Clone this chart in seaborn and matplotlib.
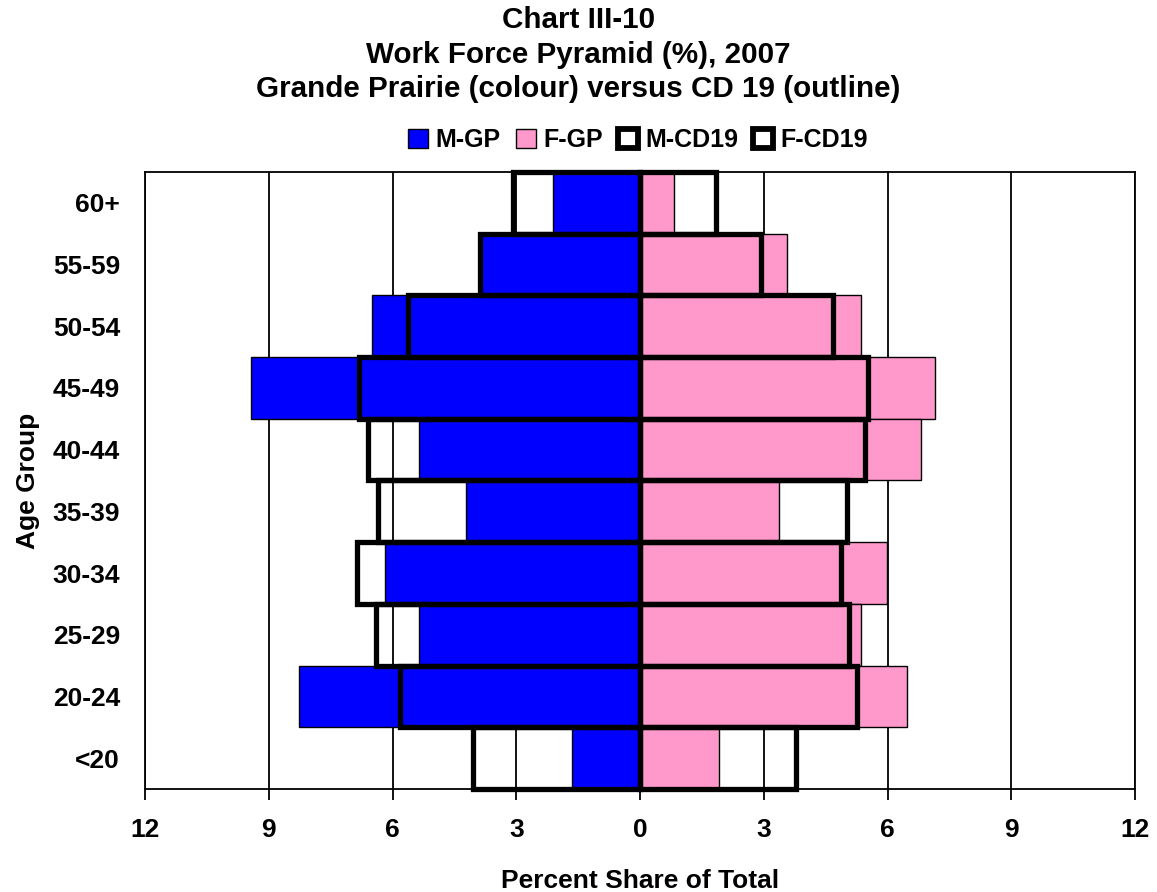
import matplotlib
matplotlib.use("Agg")
import matplotlib.pyplot as plt
from matplotlib.patches import Patch
import seaborn as sns
import pandas as pd

# ---- data (percent share of total) ----
age_groups = ["<20", "20-24", "25-29", "30-34", "35-39", "40-44",
              "45-49", "50-54", "55-59", "60+"]
m_gp   = [1.64, 8.27, 5.36, 6.19, 4.21, 5.36, 9.44, 6.49, 3.85, 2.12]
f_gp   = [1.92, 6.48, 5.35, 5.98, 3.38, 6.82, 7.15, 5.36, 3.57, 0.82]
m_cd19 = [4.06, 5.81, 6.39, 6.87, 6.35, 6.59, 6.82, 5.62, 3.87, 3.07]
f_cd19 = [3.77, 5.27, 5.07, 4.88, 5.03, 5.46, 5.52, 4.69, 2.94, 1.84]

x_ticks = [-12, -9, -6, -3, 0, 3, 6, 9, 12]
x_tick_labels = ["12", "9", "6", "3", "0", "3", "6", "9", "12"]

series_names = ["M-GP", "F-GP", "M-CD19", "F-CD19"]
title_lines = ["Chart III-10",
               "Work Force Pyramid (%), 2007",
               "Grande Prairie (colour) versus CD 19 (outline)"]

BLUE = "#0000FF"
PINK = "#FF99CC"

sns.set_style("white")
plt.rcParams["font.family"] = ["Liberation Sans", "DejaVu Sans"]
plt.rcParams["font.weight"] = "bold"
for k in ["text.color", "axes.labelcolor", "xtick.color", "ytick.color"]:
    plt.rcParams[k] = "black"

df = pd.DataFrame({
    "age": age_groups,
    "m_gp": [-v for v in m_gp],
    "f_gp": f_gp,
    "m_cd19": [-v for v in m_cd19],
    "f_cd19": f_cd19,
})
order = age_groups[::-1]

fig = plt.figure(figsize=(11.57, 8.92), dpi=100)
ax = fig.add_axes([145 / 1157, 1 - 789 / 892, (1135 - 145) / 1157, (789 - 172) / 892])

common = dict(y="age", order=order, orient="h", width=1.0, errorbar=None,
              saturation=1, ax=ax)
sns.barplot(data=df, x="m_gp", color=BLUE, edgecolor="black", linewidth=1.0, **common)
sns.barplot(data=df, x="f_gp", color=PINK, edgecolor="black", linewidth=1.0, **common)
n_before = len(ax.patches)
sns.barplot(data=df, x="m_cd19", color="black", fill=False, linewidth=3.8, **common)
sns.barplot(data=df, x="f_cd19", color="black", fill=False, linewidth=3.8, **common)
for p in ax.patches[n_before:]:
    p.set_facecolor("none")
    p.set_edgecolor("black")
    p.set_zorder(3)
    p.set_clip_on(False)

ax.set_xlim(-12, 12)
ax.set_ylim(len(order) - 0.5, -0.5)
ax.set_xticks(x_ticks)
ax.set_xticklabels(x_tick_labels, fontsize=19, fontweight="bold")
ax.tick_params(axis="x", bottom=True, direction="out", length=8, width=1.3,
               color="black", pad=13)
ax.tick_params(axis="y", left=False, length=0, pad=18, labelsize=19)
for lab in ax.get_yticklabels():
    lab.set_fontweight("bold")

ax.set_axisbelow(True)
ax.xaxis.grid(True, color="black", linewidth=1.3)
ax.yaxis.grid(False)
for s in ax.spines.values():
    s.set_visible(True)
    s.set_color("black")
    s.set_linewidth(1.3)

ax.set_xlabel("Percent Share of Total", fontsize=19, fontweight="bold", labelpad=19)
ax.set_ylabel("Age Group", fontsize=19, fontweight="bold", labelpad=9)

fig.text(0.5, 1 - 6 / 892, "\n".join(title_lines), ha="center", va="top",
         fontsize=21.3, fontweight="bold", linespacing=1.3)

handles = [
    Patch(facecolor=BLUE, edgecolor="black", linewidth=1.0),
    Patch(facecolor=PINK, edgecolor="black", linewidth=1.0),
    Patch(facecolor="white", edgecolor="black", linewidth=4.2),
    Patch(facecolor="white", edgecolor="black", linewidth=4.2),
]
fig.legend(handles, series_names, loc="center", bbox_to_anchor=(638 / 1157, 1 - 140 / 892),
           ncol=4, frameon=False, handlelength=0.8, handleheight=0.8,
           handletextpad=0.3, columnspacing=0.6, prop={"weight": "bold", "size": 18})

fig.savefig("out.png", dpi=100)
